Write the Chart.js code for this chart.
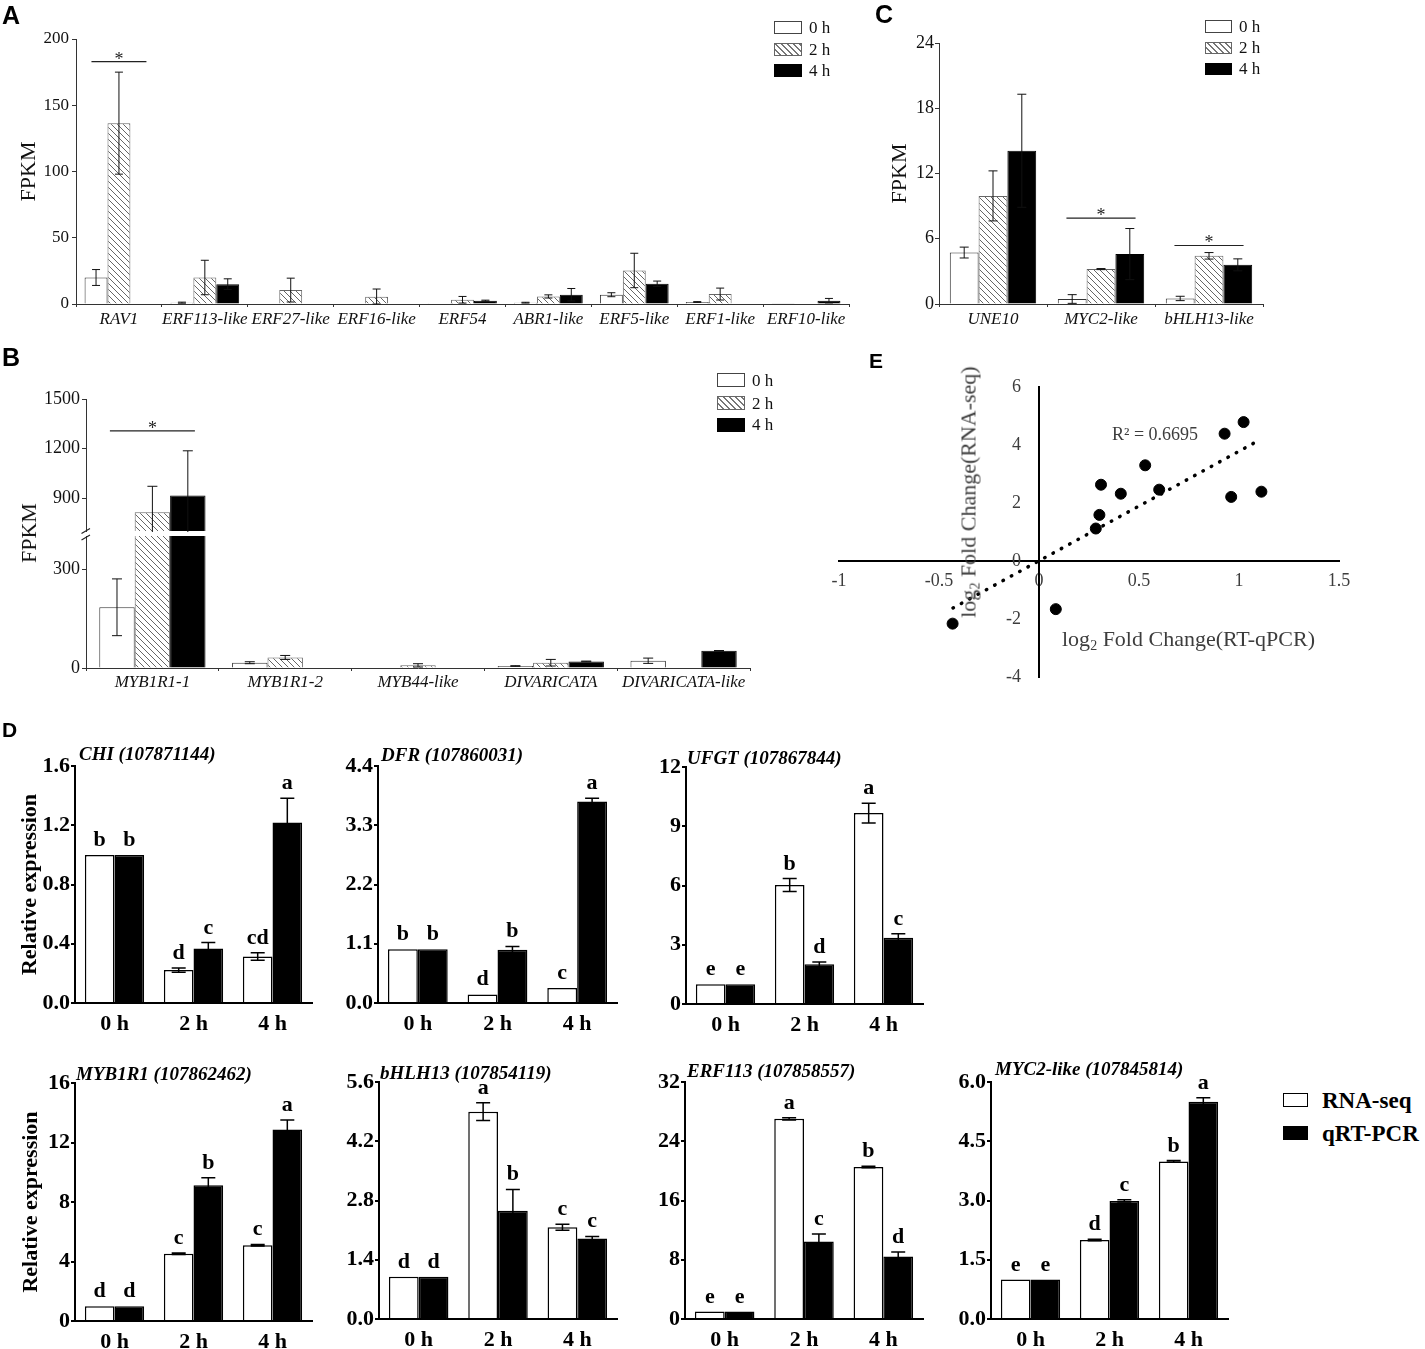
<!DOCTYPE html>
<html><head><meta charset="utf-8">
<script src="https://cdn.jsdelivr.net/npm/chart.js@4.4.1/dist/chart.umd.min.js"></script>
<style>
html,body{margin:0;padding:0;background:#fff;}
#fig{position:relative;width:1425px;height:1349px;overflow:hidden;font-family:"Liberation Serif","Times New Roman",serif;color:#111;}
canvas{position:absolute;}
.t{position:absolute;white-space:nowrap;line-height:1;}
.pl{font-family:"Liberation Sans",Arial,sans-serif;font-weight:bold;color:#000;}
.lg{position:absolute;box-sizing:border-box;}
.lw{background:#fff;border:1px solid #444;}
.lh{border:1px solid #666;background:repeating-linear-gradient(45deg,#fff 0 3.3px,#777 3.3px 4.25px);}
.lb{background:#000;border:1px solid #000;}
.lw2{background:#fff;border:1.5px solid #000;}
</style></head><body><div id="fig"></div>
<script>
// ================= DATA =================
const legendTimes = ['0 h', '2 h', '4 h'];
const timeLabels = ['0 h', '2 h', '4 h'];

// Panel A (FPKM)
const catsA = ['RAV1','ERF113-like','ERF27-like','ERF16-like','ERF54','ABR1-like','ERF5-like','ERF1-like','ERF10-like'];
const a0h    = [20,   1,   0.3, 0.3, 0.6, 1,   7,    1.5, 0.5];
const a0hErr = [6,    0.4, 0,   0,   0,   0.3, 1.5,  0.3, 0];
const a2h    = [136.5, 20, 10.5, 5.5, 3.2, 5.7, 25.3, 7.5, 0];
const a2hErr = [38.5, 13,  9,   5.8, 2.5, 1.2, 13,   4.5, 0];
const a4h    = [0,    15,  0,   0,   2.5, 7,   15.3, 0,   2.5];
const a4hErr = [0,    4,   0,   0,   0.4, 4.7, 2,    0,   1.7];
const ticksA = ['0','50','100','150','200'];
const sigA = [{index: 0, value: 183}];

// Panel B (FPKM, broken axis)
const catsB = ['MYB1R1-1','MYB1R1-2','MYB44-like','DIVARICATA','DIVARICATA-like'];
const b0h    = [184, 16, 1.5, 6,  22];
const b0hErr = [86,  3,  0,   1,  8];
const b2h    = [813, 32, 8,   16, 0];
const b2hErr = [158, 6,  5,   10, 0];
const b4h    = [915, 0,  0,   20, 52];
const b4hErr = [271, 0,  0,   1,  1];
const ticksBLow = ['0','300'];
const ticksBHigh = ['900','1200','1500'];
const sigB = [{index: 0, value: 1307}];

// Panel C (FPKM)
const catsC = ['UNE10','MYC2-like','bHLH13-like'];
const c0h    = [4.73, 0.46, 0.51];
const c0hErr = [0.5,  0.4,  0.2];
const c2h    = [9.94, 3.21, 4.43];
const c2hErr = [2.3,  0.05, 0.3];
const c4h    = [14.09, 4.59, 3.6];
const c4hErr = [5.2,  2.35, 0.55];
const ticksC = ['0','6','12','18','24'];
const sigC = [{index: 1, value: 7.9}, {index: 2, value: 5.38}];

// Panel E (scatter)
const eX = [-0.432, 0.084, 0.284, 0.302, 0.310, 0.409, 0.531, 0.601, 0.928, 1.023, 0.961, 1.112];
const eY = [-2.16, -1.66, 1.12, 1.59, 2.63, 2.32, 3.30, 2.46, 4.39, 4.79, 2.21, 2.39];
const eTrendX = [-0.43, 1.11];
const eTrendY = [-1.62, 4.20];
const eXTicks = ['-1','-0.5','0','0.5','1','1.5'];
const eYTicks = ['-4','-2','0','2','4','6'];

// Panel D (relative expression)
const chiRna = [1.00, 0.222, 0.314], chiRnaErr = [0, 0.014, 0.025], chiRnaLet = ['b','d','cd'];
const chiQ   = [1.00, 0.368, 1.218], chiQErr   = [0, 0.04, 0.165],  chiQLet   = ['b','c','a'];
const chiTicks = ['0.0','0.4','0.8','1.2','1.6'];

const dfrRna = [1.00, 0.16, 0.28], dfrRnaErr = [0, 0, 0],    dfrRnaLet = ['b','d','c'];
const dfrQ   = [1.00, 0.99, 3.74], dfrQErr   = [0, 0.06, 0.06], dfrQLet = ['b','b','a'];
const dfrTicks = ['0.0','1.1','2.2','3.3','4.4'];

const ufgtRna = [1.00, 6.02, 9.67], ufgtRnaErr = [0, 0.33, 0.5], ufgtRnaLet = ['e','b','a'];
const ufgtQ   = [1.00, 2.01, 3.36], ufgtQErr   = [0, 0.12, 0.2], ufgtQLet   = ['e','d','c'];
const ufgtTicks = ['0','3','6','9','12'];

const mybRna = [1.00, 4.52, 5.10], mybRnaErr = [0, 0.05, 0.05], mybRnaLet = ['d','c','c'];
const mybQ   = [1.00, 9.13, 12.88], mybQErr  = [0, 0.5, 0.63],  mybQLet   = ['d','b','a'];
const mybTicks = ['0','4','8','12','16'];

const bhlhRna = [1.00, 4.90, 2.17], bhlhRnaErr = [0, 0.21, 0.07], bhlhRnaLet = ['d','a','c'];
const bhlhQ   = [1.00, 2.56, 1.90], bhlhQErr   = [0, 0.5, 0.05],  bhlhQLet   = ['d','b','c'];
const bhlhTicks = ['0.0','1.4','2.8','4.2','5.6'];

const erfRna = [1.00, 27.03, 20.51], erfRnaErr = [0, 0.15, 0.1], erfRnaLet = ['e','a','b'];
const erfQ   = [1.00, 10.47, 8.45],  erfQErr   = [0, 1.0, 0.6],  erfQLet   = ['e','c','d'];
const erfTicks = ['0','8','16','24','32'];

const mycRna = [1.00, 2.00, 3.99], mycRnaErr = [0, 0.02, 0.02], mycRnaLet = ['e','d','b'];
const mycQ   = [1.00, 2.99, 5.50], mycQErr   = [0, 0.03, 0.1],  mycQLet   = ['e','c','a'];
const mycTicks = ['0.0','1.5','3.0','4.5','6.0'];

// ================= HELPERS =================
const serif = '"Liberation Serif","Times New Roman",serif';
const fig = document.getElementById('fig');

function addText(html, x, cy, size, css) {
  const d = document.createElement('div');
  d.className = 't';
  d.innerHTML = html;
  d.style.left = x + 'px';
  d.style.top = (cy - size / 2) + 'px';
  d.style.fontSize = size + 'px';
  Object.assign(d.style, css || {});
  fig.appendChild(d);
  return d;
}
function addRotText(html, cx, cy, size, css) {
  const d = document.createElement('div');
  d.className = 't';
  d.innerHTML = html;
  d.style.left = cx + 'px';
  d.style.top = cy + 'px';
  d.style.fontSize = size + 'px';
  d.style.transform = 'translate(-50%,-50%) rotate(-90deg)';
  Object.assign(d.style, css || {});
  fig.appendChild(d);
}
function addPanel(letter, x, y, size) {
  const d = document.createElement('div');
  d.className = 't pl';
  d.textContent = letter;
  d.style.left = x + 'px'; d.style.top = y + 'px'; d.style.fontSize = size + 'px';
  fig.appendChild(d);
}
function addBox(cls, x, y, w, h) {
  const d = document.createElement('div');
  d.className = 'lg ' + cls;
  d.style.left = x + 'px'; d.style.top = y + 'px'; d.style.width = w + 'px'; d.style.height = h + 'px';
  fig.appendChild(d);
}
function makeCanvas(box) {
  const c = document.createElement('canvas');
  const L = box.l - box.ml, T = box.t - box.mt;
  const W = box.r - box.l + box.ml + box.mr, H = box.b - box.t + box.mt + box.mb;
  c.width = W; c.height = H;
  c.style.left = L + 'px'; c.style.top = T + 'px';
  c.style.width = W + 'px'; c.style.height = H + 'px';
  fig.appendChild(c);
  return c;
}
function hatchPattern() {
  const s = 6, c = document.createElement('canvas');
  c.width = s; c.height = s;
  const g = c.getContext('2d');
  g.fillStyle = '#fff'; g.fillRect(0, 0, s, s);
  g.strokeStyle = '#666'; g.lineWidth = 1;
  g.beginPath();
  g.moveTo(0, 0); g.lineTo(s, s);
  g.moveTo(-1, s - 1); g.lineTo(1, s + 1);
  g.moveTo(s - 1, -1); g.lineTo(s + 1, 1);
  g.stroke();
  return g.createPattern(c, 'repeat');
}
const HATCH = hatchPattern();

// ================= PLUGINS =================
const errPlugin = {
  id: 'errbars',
  afterDatasetsDraw(chart, args, o) {
    const ctx = chart.ctx, a = chart.chartArea;
    ctx.save();
    ctx.beginPath(); ctx.rect(a.left, a.top - 1, a.right - a.left, a.bottom - a.top + 2); ctx.clip();
    ctx.strokeStyle = o.color || '#000'; ctx.lineWidth = o.width || 1;
    chart.data.datasets.forEach((ds, di) => {
      if (!ds.errors) return;
      const meta = chart.getDatasetMeta(di), ys = chart.scales[meta.yAxisID];
      meta.data.forEach((el, i) => {
        const v = ds.data[i], e = ds.errors[i];
        if (v == null || !e) return;
        const yt = ys.getPixelForValue(v + e), yb = ys.getPixelForValue(Math.max(v - e, 0));
        const h = (o.cap || 8) / 2, x = el.x;
        ctx.beginPath();
        ctx.moveTo(x, yt); ctx.lineTo(x, yb);
        ctx.moveTo(x - h, yt); ctx.lineTo(x + h, yt);
        ctx.moveTo(x - h, yb); ctx.lineTo(x + h, yb);
        ctx.stroke();
      });
    });
    ctx.restore();
  }
};
const letterPlugin = {
  id: 'letters',
  afterDatasetsDraw(chart, args, o) {
    const ctx = chart.ctx;
    ctx.save();
    ctx.fillStyle = '#000';
    ctx.font = 'bold ' + o.size + 'px ' + serif;
    ctx.textAlign = 'center'; ctx.textBaseline = 'alphabetic';
    chart.data.datasets.forEach((ds, di) => {
      if (!ds.letters) return;
      const meta = chart.getDatasetMeta(di), ys = chart.scales[meta.yAxisID];
      meta.data.forEach((el, i) => {
        const top = ys.getPixelForValue(ds.data[i] + (ds.errors ? ds.errors[i] : 0));
        ctx.fillText(ds.letters[i], el.x, top - o.gap);
      });
    });
    ctx.restore();
  }
};
const sigPlugin = {
  id: 'sig',
  afterDatasetsDraw(chart, args, o) {
    if (!o || !o.marks) return;
    const ctx = chart.ctx, ys = chart.scales.y, n = chart.data.datasets.length;
    ctx.save();
    ctx.strokeStyle = '#222'; ctx.lineWidth = 1.2; ctx.fillStyle = '#222';
    ctx.font = '18px ' + serif; ctx.textAlign = 'center'; ctx.textBaseline = 'alphabetic';
    o.marks.forEach(m => {
      const f = chart.getDatasetMeta(0).data[m.index], l = chart.getDatasetMeta(n - 1).data[m.index];
      const x1 = f.x - f.width * 0.2, x2 = l.x + l.width * 0.2, y = ys.getPixelForValue(m.value);
      ctx.beginPath(); ctx.moveTo(x1, y); ctx.lineTo(x2, y); ctx.stroke();
      ctx.fillText('*', (x1 + x2) / 2, y + 3);
    });
    ctx.restore();
  }
};
const breakPlugin = {
  id: 'brk',
  afterDraw(chart) {
    const ctx = chart.ctx, a = chart.chartArea, x = a.left, y = a.top;
    ctx.save(); ctx.strokeStyle = '#222'; ctx.lineWidth = 1.2;
    ctx.beginPath();
    ctx.moveTo(x - 4.5, y - 2.5); ctx.lineTo(x + 4, y - 7.5);
    ctx.moveTo(x - 4.5, y + 4); ctx.lineTo(x + 4, y - 1);
    ctx.stroke(); ctx.restore();
  }
};

// ================= FPKM BAR CHARTS (A, B, C) =================
function fpkmChart(box, cats, series, o) {
  const cv = makeCanvas(box);
  const styles = [
    {backgroundColor: '#fff', borderColor: '#333', borderWidth: 1},
    {backgroundColor: HATCH, borderColor: '#666', borderWidth: 1},
    {backgroundColor: '#000', borderColor: '#000', borderWidth: 1}
  ];
  const ticks = o.ticks;
  return new Chart(cv, {
    type: 'bar',
    data: {
      labels: cats,
      datasets: series.map((s, i) => Object.assign({label: legendTimes[i], data: s.data, errors: s.err, clip: o.clip}, styles[i]))
    },
    options: {
      responsive: false, animation: false, events: [],
      layout: {padding: {left: 0, top: box.mt, right: box.mr, bottom: o.hideX ? box.mb : 0}},
      datasets: {bar: {categoryPercentage: 0.8, barPercentage: 1}},
      plugins: {
        legend: {display: false}, tooltip: {enabled: false},
        errbars: {cap: o.cap, width: 1, color: '#111'},
        sig: {marks: o.sig || null}
      },
      scales: {
        x: {
          display: !o.hideX,
          afterFit: s => { s.height = o.hideX ? 0 : box.mb; },
          grid: {offset: true, drawOnChartArea: false, tickLength: 3, color: '#333'},
          border: {color: '#333', width: 1},
          ticks: {autoSkip: false, maxRotation: 0, minRotation: 0, padding: o.xPad, color: '#111',
                  font: {family: serif, size: 17, style: 'italic'}}
        },
        y: {
          min: o.min, max: o.max,
          afterFit: s => { s.width = box.ml; },
          afterBuildTicks: s => { s.ticks = ticks.map(t => ({value: parseFloat(t)})); },
          grid: {drawOnChartArea: false, tickLength: 4, color: '#333'},
          border: {color: '#333', width: 1},
          ticks: {padding: o.yPad, color: '#111', font: {family: serif, size: o.yFont}, callback: (v, i) => ticks[i]},
          title: {display: !!o.yTitlePad, text: 'FPKM', color: '#111', font: {family: serif, size: 22},
                  padding: {top: o.yTitlePad || 0, bottom: 0}}
        }
      }
    },
    plugins: [errPlugin, sigPlugin].concat(o.extra || [])
  });
}

// Panel A
fpkmChart({l: 76, t: 39, r: 849, b: 304, ml: 76, mt: 20, mr: 10, mb: 40}, catsA,
  [{data: a0h, err: a0hErr}, {data: a2h, err: a2hErr}, {data: a4h, err: a4hErr}],
  {min: 0, max: 200, ticks: ticksA, cap: 8, xPad: 2, yPad: 3, yFont: 17, yTitlePad: 16, sig: sigA});

// Panel B (upper and lower parts of the broken axis)
fpkmChart({l: 86, t: 399, r: 750, b: 531, ml: 86, mt: 14, mr: 10, mb: 13}, catsB,
  [{data: b0h, err: b0hErr}, {data: b2h, err: b2hErr}, {data: b4h, err: b4hErr}],
  {min: 700, max: 1500, ticks: ticksBHigh, cap: 10, xPad: 1, yPad: 2, yFont: 18, hideX: true, clip: 0, sig: sigB});
fpkmChart({l: 86, t: 536, r: 750, b: 668, ml: 86, mt: 13, mr: 10, mb: 40}, catsB,
  [{data: b0h, err: b0hErr}, {data: b2h, err: b2hErr}, {data: b4h, err: b4hErr}],
  {min: 0, max: 400, ticks: ticksBLow, cap: 10, xPad: 1, yPad: 2, yFont: 18, clip: 0, extra: [breakPlugin]});

// Panel C
fpkmChart({l: 939, t: 43, r: 1263, b: 304, ml: 80, mt: 20, mr: 10, mb: 40}, catsC,
  [{data: c0h, err: c0hErr}, {data: c2h, err: c2hErr}, {data: c4h, err: c4hErr}],
  {min: 0, max: 24, ticks: ticksC, cap: 9, xPad: 2, yPad: 1, yFont: 18, yTitlePad: 28, sig: sigC});

// ================= PANEL E (scatter) =================
(function () {
  const box = {l: 839, t: 387, r: 1339, b: 677, ml: 25, mt: 15, mr: 25, mb: 15};
  const cv = makeCanvas(box);
  const tickFont = {family: serif, size: 18};
  new Chart(cv, {
    type: 'scatter',
    data: {
      datasets: [
        {type: 'line', data: eTrendX.map((x, i) => ({x: x, y: eTrendY[i]})), borderColor: '#000', borderWidth: 3.5,
         borderDash: [0.5, 9], borderCapStyle: 'round', pointRadius: 0, fill: false, tension: 0},
        {data: eX.map((x, i) => ({x: x, y: eY[i]})), pointRadius: 5.5, backgroundColor: '#000', borderColor: '#000'}
      ]
    },
    options: {
      responsive: false, animation: false, events: [],
      layout: {padding: {left: box.ml, top: box.mt, right: box.mr, bottom: box.mb}},
      plugins: {legend: {display: false}, tooltip: {enabled: false}},
      scales: {
        x: {
          type: 'linear', position: {y: 0}, min: -1, max: 1.5,
          afterBuildTicks: s => { s.ticks = eXTicks.map(t => ({value: parseFloat(t)})); },
          grid: {display: false}, border: {color: '#000', width: 2},
          ticks: {padding: 1, color: '#3d3d3d', font: tickFont, callback: (v, i) => eXTicks[i]}
        },
        y: {
          type: 'linear', position: {x: 0}, min: -4, max: 6,
          afterBuildTicks: s => { s.ticks = eYTicks.map(t => ({value: parseFloat(t)})); },
          grid: {display: false}, border: {color: '#000', width: 2},
          ticks: {color: '#3d3d3d', font: tickFont, callback: (v, i) => eYTicks[i] + '\u2003'}
        }
      }
    }
  });
})();

// ================= PANEL D =================
function dChart(box, c) {
  const cv = makeCanvas(box);
  const ticks = c.ticks;
  const bold = {family: serif, size: 22, weight: 'bold'};
  new Chart(cv, {
    type: 'bar',
    data: {
      labels: timeLabels,
      datasets: [
        {label: 'RNA-seq', data: c.rna, errors: c.rnaErr, letters: c.rnaLet, backgroundColor: '#fff', borderColor: '#000', borderWidth: 1.5},
        {label: 'qRT-PCR', data: c.q, errors: c.qErr, letters: c.qLet, backgroundColor: '#000', borderColor: '#000', borderWidth: 1.5}
      ]
    },
    options: {
      responsive: false, animation: false, events: [],
      layout: {padding: {left: 0, top: box.mt, right: box.mr, bottom: 0}},
      datasets: {bar: {categoryPercentage: 0.75, barPercentage: 1}},
      plugins: {
        legend: {display: false}, tooltip: {enabled: false},
        errbars: {cap: 14, width: 1.5, color: '#000'},
        letters: {size: 22, gap: 9}
      },
      scales: {
        x: {
          afterFit: s => { s.height = box.mb; },
          grid: {display: false}, border: {color: '#000', width: 2},
          ticks: {autoSkip: false, maxRotation: 0, minRotation: 0, padding: 0, color: '#000', font: bold}
        },
        y: {
          min: 0, max: parseFloat(ticks[ticks.length - 1]),
          afterFit: s => { s.width = box.ml; },
          afterBuildTicks: s => { s.ticks = ticks.map(t => ({value: parseFloat(t)})); },
          grid: {drawOnChartArea: false, tickLength: 4, color: '#000', lineWidth: 2},
          border: {color: '#000', width: 2},
          ticks: {padding: 1, color: '#000', font: bold, callback: (v, i) => ticks[i]},
          title: {display: !!c.yTitlePad, text: 'Relative expression', color: '#000', font: bold,
                  padding: {top: c.yTitlePad || 0, bottom: 0}}
        }
      }
    },
    plugins: [errPlugin, letterPlugin]
  });
  addText(c.title, c.tx, c.ty, 19, {fontWeight: 'bold', fontStyle: 'italic', color: '#000'});
}

dChart({l: 75, t: 766, r: 312, b: 1003, ml: 75, mt: 20, mr: 8, mb: 36},
  {rna: chiRna, rnaErr: chiRnaErr, rnaLet: chiRnaLet, q: chiQ, qErr: chiQErr, qLet: chiQLet, ticks: chiTicks,
   yTitlePad: 17.5, title: 'CHI (107871144)', tx: 79, ty: 753});
dChart({l: 378, t: 766, r: 617, b: 1003, ml: 60, mt: 20, mr: 8, mb: 36},
  {rna: dfrRna, rnaErr: dfrRnaErr, rnaLet: dfrRnaLet, q: dfrQ, qErr: dfrQErr, qLet: dfrQLet, ticks: dfrTicks,
   title: 'DFR (107860031)', tx: 381, ty: 754});
dChart({l: 686, t: 767, r: 923, b: 1004, ml: 60, mt: 20, mr: 8, mb: 36},
  {rna: ufgtRna, rnaErr: ufgtRnaErr, rnaLet: ufgtRnaLet, q: ufgtQ, qErr: ufgtQErr, qLet: ufgtQLet, ticks: ufgtTicks,
   title: 'UFGT (107867844)', tx: 687, ty: 757});
dChart({l: 75, t: 1083, r: 312, b: 1321, ml: 75, mt: 20, mr: 8, mb: 28},
  {rna: mybRna, rnaErr: mybRnaErr, rnaLet: mybRnaLet, q: mybQ, qErr: mybQErr, qLet: mybQLet, ticks: mybTicks,
   yTitlePad: 18.5, title: 'MYB1R1 (107862462)', tx: 76, ty: 1073});
dChart({l: 379, t: 1082, r: 617, b: 1319, ml: 60, mt: 20, mr: 8, mb: 30},
  {rna: bhlhRna, rnaErr: bhlhRnaErr, rnaLet: bhlhRnaLet, q: bhlhQ, qErr: bhlhQErr, qLet: bhlhQLet, ticks: bhlhTicks,
   title: 'bHLH13 (107854119)', tx: 380, ty: 1072});
dChart({l: 685, t: 1082, r: 923, b: 1319, ml: 60, mt: 20, mr: 8, mb: 30},
  {rna: erfRna, rnaErr: erfRnaErr, rnaLet: erfRnaLet, q: erfQ, qErr: erfQErr, qLet: erfQLet, ticks: erfTicks,
   title: 'ERF113 (107858557)', tx: 687, ty: 1070});
dChart({l: 991, t: 1082, r: 1228, b: 1319, ml: 60, mt: 20, mr: 8, mb: 30},
  {rna: mycRna, rnaErr: mycRnaErr, rnaLet: mycRnaLet, q: mycQ, qErr: mycQErr, qLet: mycQLet, ticks: mycTicks,
   title: 'MYC2-like (107845814)', tx: 995, ty: 1068});

// ================= TEXT, LEGENDS, PANEL LETTERS =================
addPanel('A', 2, 3, 25);
addPanel('B', 2, 345, 25);
addPanel('C', 875, 2, 25);
addPanel('D', 2, 719, 21);
addPanel('E', 869, 350, 21);

// B axis title
addRotText('FPKM', 29, 533, 22);

// E axis titles and R²
addRotText('log<sub style="font-size:14px;vertical-align:-4px;">2</sub> Fold Change(RNA-seq)', 970, 492, 22, {color: '#3d3d3d'});
addText('log<sub style="font-size:14px;vertical-align:-4px;">2</sub> Fold Change(RT-qPCR)', 1062, 639, 22, {color: '#3d3d3d'});
addText('R\u00B2 = 0.6695', 1112, 434, 18, {color: '#3d3d3d'});

// Legends A, B, C
function timeLegend(x, tops, w, h, tx) {
  const cls = ['lw', 'lh', 'lb'];
  tops.forEach((t, i) => {
    addBox(cls[i], x, t, w, h);
    addText(legendTimes[i], tx, t + h / 2, 17, {color: '#111'});
  });
}
timeLegend(774, [20.5, 42.5, 64], 28, 13, 809);
timeLegend(717, [373, 396, 417.5], 28, 14, 752);
timeLegend(1205, [20, 41.7, 62.7], 27, 12.5, 1239);

// Legend D
addBox('lw2', 1283, 1093, 25, 14);
addBox('lb', 1283, 1126, 25, 14);
addText('RNA-seq', 1322, 1100, 23, {fontWeight: 'bold', color: '#000'});
addText('qRT-PCR', 1322, 1133, 23, {fontWeight: 'bold', color: '#000'});
</script></body></html>
